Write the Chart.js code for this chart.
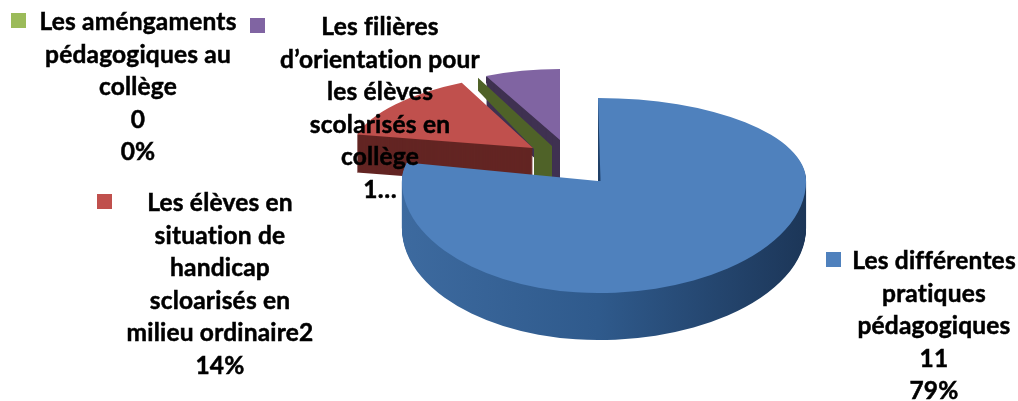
<!DOCTYPE html>
<html>
<head>
<meta charset="utf-8">
<style>
  html, body { margin: 0; padding: 0; background: #fff; }
  #myChart { display: block; }
</style>
<script src="https://cdn.jsdelivr.net/npm/chart.js@4"></script>
</head>
<body>
<canvas id="myChart" width="1018" height="401"></canvas>
<script>
// Chart data
const categories = [
  'Les différentes pratiques pédagogiques',
  'Les élèves en situation de handicap scloarisés en milieu ordinaire',
  'Les améngaments pédagogiques au collège',
  'Les filières d’orientation pour les élèves scolarisés en collège'
];
const values = [11, 2, 0, 1];
const topColors = ['#4f81bd', '#c0504d', '#9bbb59', '#8064a2'];
const wallColors = ['#2f5a8c', '#632523', '#4f6228', '#3f3151'];

// Label text, wrapped the way the picture wraps it
const labelLines = [
  ['Les différentes', 'pratiques', 'pédagogiques', '11', '79%'],
  ['Les élèves en', 'situation de', 'handicap', 'scloarisés en', 'milieu ordinaire2', '14%'],
  ['Les améngaments', 'pédagogiques au', 'collège', '0', '0%'],
  ['Les filières', 'd’orientation pour', 'les élèves', 'scolarisés en', 'collège', '1…']
];

// Layout of the labels: text centre, first baseline, legend square
const labelStyle = [
  { x: 934, y: 269, box: [826, 252] },
  { x: 220, y: 211, box: [97, 194] },
  { x: 138, y: 30, box: [11, 13] },
  { x: 380, y: 35, box: [250, 18] }
];
const lineHeight = 32.6;

// 3D look of each slice: where its tip lands, how it is squashed, wall depth
const sliceView = [
  { x: 598, y: 181, depth: 47, sliver: 2.5, quads: [
    { left: true, top: true, sx: 0.966, sy: 0.409 },
    { left: false, top: true, sx: 1.025, sy: 0.409 },
    { left: true, top: false, sx: 0.966, sy: 0.552 },
    { left: false, top: false, sx: 1.025, sy: 0.552 }
  ] },
  { x: 533, y: 148, depth: 38, sx: 0.8995, sy: 0.3633, shearX: -0.0436, shearY: -0.0145 },
  { x: 552, y: 146, depth: 34, sx: 0.84, sy: 0.373, edgeTip: [534, 149], rimDrop: 13 },
  { x: 560, y: 140, depth: 40, sx: 0.84, sy: 0.35, edgeTip: [552, 144], rimDrop: 7 }
];

function flatCopy(arc, color) {
  const copy = Object.create(arc);
  copy.options = Object.assign({}, arc.options, { backgroundColor: color });
  return copy;
}

function drawSlice(ctx, arc, view, dz, color) {
  ctx.save();
  ctx.translate(view.x, view.y + dz);
  ctx.transform(view.sx, view.shearY || 0, view.shearX || 0, view.sy, 0, 0);
  ctx.translate(-arc.x, -arc.y);
  flatCopy(arc, color).draw(ctx);
  ctx.restore();
}

// The big slice is wider and deeper towards the viewer, so it is drawn by quadrant
function drawQuads(ctx, arc, view, dz, color) {
  view.quads.forEach(function(q) {
    ctx.save();
    ctx.beginPath();
    ctx.rect(q.left ? 0 : view.x, q.top ? 0 : view.y + dz, q.left ? view.x : 1018, q.top ? view.y + dz : 401);
    ctx.clip();
    drawSlice(ctx, arc, { x: view.x, y: view.y, sx: q.sx, sy: q.sy }, dz, color);
    ctx.restore();
  });
}

// Side face running from the rim to the tip, seen on the slices at the back
function drawEdgeWall(ctx, arc, view, color) {
  const r = arc.outerRadius;
  const rimX = view.x + Math.cos(arc.startAngle) * r * view.sx;
  const rimY = view.y + Math.sin(arc.startAngle) * r * view.sy;
  ctx.fillStyle = color;
  ctx.beginPath();
  ctx.moveTo(rimX, rimY);
  ctx.lineTo(rimX, rimY + view.rimDrop);
  ctx.lineTo(view.edgeTip[0], view.edgeTip[1]);
  ctx.lineTo(view.edgeTip[0], view.y + view.depth);
  ctx.lineTo(view.x, view.y + view.depth);
  ctx.lineTo(view.x, view.y);
  ctx.closePath();
  ctx.fill();
}

// Thin dark face along the upright edge of the big slice, widest at the tip
function drawSliver(ctx, arc, view) {
  const topY = view.y - arc.outerRadius * view.quads[0].sy;
  ctx.fillStyle = '#1f3f66';
  ctx.beginPath();
  ctx.moveTo(view.x, topY);
  ctx.lineTo(view.x, view.y);
  ctx.lineTo(view.x + view.sliver, view.y);
  ctx.closePath();
  ctx.fill();
}

const pie3d = {
  id: 'pie3d',
  beforeDatasetDraw(chart) {
    const ctx = chart.ctx;
    const arcs = chart.getDatasetMeta(0).data;

    // purple at the back, then green, then red, blue in front
    [3, 2, 1].forEach(function(i) {
      const view = sliceView[i];
      if (view.edgeTip) {
        drawEdgeWall(ctx, arcs[i], view, wallColors[i]);
      }
      if (values[i] > 0) {
        for (let dz = view.depth; dz > 0; dz--) {
          drawSlice(ctx, arcs[i], view, dz, wallColors[i]);
        }
        drawSlice(ctx, arcs[i], view, 0, topColors[i]);
      }
    });

    const blue = arcs[0];
    const blueView = sliceView[0];
    const wall = ctx.createLinearGradient(blue.x - blue.outerRadius, 0, blue.x + blue.outerRadius, 0);
    wall.addColorStop(0, '#3d6a9f');
    wall.addColorStop(0.5, '#2f5a8c');
    wall.addColorStop(1, '#1c3658');
    for (let dz = blueView.depth; dz > 0; dz--) {
      drawQuads(ctx, blue, blueView, dz, wall);
    }
    drawQuads(ctx, blue, blueView, 0, topColors[0]);
    drawSliver(ctx, blue, blueView);

    // the library's own pass is not needed after this
    return false;
  },
  afterDraw(chart) {
    const ctx = chart.ctx;
    ctx.save();
    ctx.font = 'bold 24.5px Lato';
    ctx.letterSpacing = '0.2px'; // also keeps "fi" from joining into a ligature
    ctx.textAlign = 'center';
    ctx.fillStyle = '#000';
    ctx.strokeStyle = '#000';
    ctx.lineWidth = 0.5;
    labelLines.forEach(function(lines, i) {
      const style = labelStyle[i];
      lines.forEach(function(line, n) {
        ctx.fillText(line, style.x, style.y + n * lineHeight);
        ctx.strokeText(line, style.x, style.y + n * lineHeight);
      });
    });
    labelStyle.forEach(function(style, i) {
      ctx.fillStyle = topColors[i];
      ctx.fillRect(style.box[0], style.box[1], 15, 15);
    });
    ctx.restore();
  }
};

new Chart(document.getElementById('myChart').getContext('2d'), {
  type: 'pie',
  data: {
    labels: categories,
    datasets: [{
      data: values,
      backgroundColor: topColors,
      borderWidth: 0
    }]
  },
  options: {
    responsive: false,
    animation: false,
    radius: 203,
    layout: { padding: { left: 182, bottom: 39 } },
    plugins: {
      legend: { display: false },
      tooltip: { enabled: false }
    }
  },
  plugins: [pie3d]
});
</script>
</body>
</html>
